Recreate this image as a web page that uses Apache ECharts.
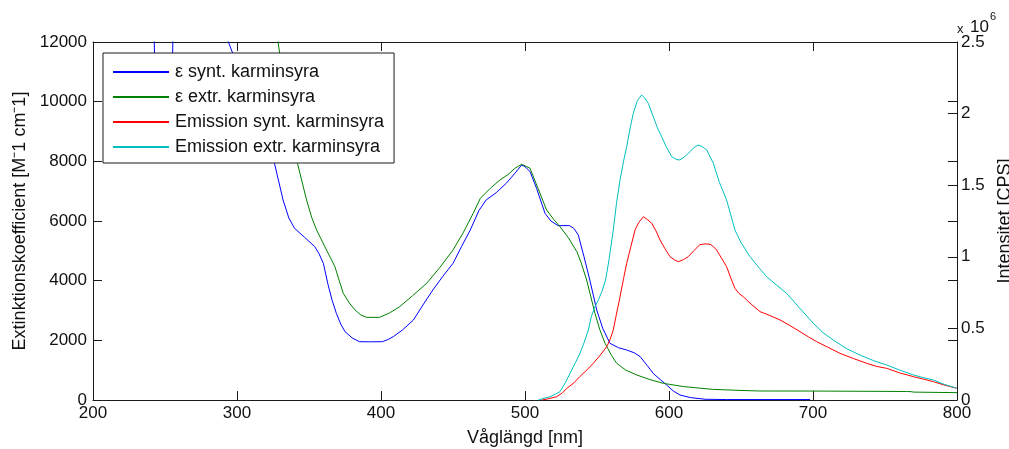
<!DOCTYPE html>
<html>
<head>
<meta charset="utf-8">
<script src="https://cdn.jsdelivr.net/npm/echarts@6/dist/echarts.min.js"></script>
<style>html,body{margin:0;padding:0;background:#fff}#c{width:1009px;height:449px}</style>
</head>
<body>
<div id="c"></div>
<script>
// ---- data (wavelength nm, value) ----
const seriesNames = ['ε synt. karminsyra', 'ε extr. karminsyra', 'Emission synt. karminsyra', 'Emission extr. karminsyra'];
const xTicks = [200, 300, 400, 500, 600, 700, 800];
const leftTicks = [0, 2000, 4000, 6000, 8000, 10000, 12000];
const rightTicks = [0, 0.5, 1, 1.5, 2, 2.5];

// absorption (M-1 cm-1)
const blueData = [[200,16000],[230,15000],[242,14000],[243,10500],[255,10500],[256,14000],[280,14500],[294,12000],[310,10000],[326,7935],[332,6704],[336,6100],[340,5755],[347,5450],[354,5140],[357,4900],[360,4581],[363,3911],[366,3350],[369,2905],[372,2550],[375,2291],[380,2080],[385,1955],[392,1950],[401,1955],[405,2030],[408.5,2123],[415,2350],[422.5,2682],[430,3250],[436,3687],[443,4150],[450,4581],[456,5150],[462,5698],[468,6350],[473,6704],[480,6950],[487,7264],[493,7600],[497.7,7878],[500,7820],[503.5,7654],[508,7100],[513.9,6257],[518,6000],[523,5844],[531,5844],[534,5750],[537,5531],[541,4800],[545,4022],[549.8,3017],[554,2400],[559,1900],[565,1750],[570.6,1676],[576,1580],[580,1452],[585,1150],[589,894],[594,680],[598.4,503],[603,300],[607.6,168],[615,80],[625,25],[640,15],[698,15]];
const greenData = [[200,20000],[320,16000],[328.5,12000],[335,9800],[342,7935],[348.3,6704],[352,6100],[355.3,5698],[361,5140],[368,4469],[371,4000],[373.8,3576],[378,3250],[382,3017],[386,2850],[390,2771],[399,2771],[406,2920],[413,3128],[422,3500],[431.7,3911],[441,4450],[450,5028],[457,5600],[464,6257],[469,6760],[476,7100],[482.6,7375],[488,7550],[493,7767],[497.7,7900],[503.5,7767],[509,7100],[515,6369],[520,6050],[524.3,5810],[530,5450],[536,4972],[539,4600],[542.8,4022],[548.6,2905],[552,2350],[555.6,1900],[560,1500],[563.7,1230],[570,1000],[577.6,838],[587,680],[596,559],[610,450],[630,358],[650,320],[663,302],[700,300],[765,285],[766,260],[768,280],[770,265],[800,246]];
// emission (CPS, x 10^6)
const redData = [[511.6,0],[516,0.008],[522,0.023],[526,0.05],[529,0.081],[534,0.12],[538,0.163],[543,0.21],[547.4,0.256],[552,0.31],[556.7,0.372],[559,0.42],[561.3,0.489],[563.5,0.6],[566,0.721],[568.5,0.85],[570.6,0.954],[573.5,1.07],[576.4,1.187],[579,1.24],[582.2,1.28],[585,1.26],[588,1.234],[591,1.18],[593.8,1.117],[597,1.06],[600.7,1.001],[603.5,0.98],[606.5,0.966],[610,0.98],[613.4,1.001],[617,1.04],[621.5,1.085],[625,1.09],[628.5,1.088],[631,1.07],[633.1,1.047],[636.5,0.99],[640,0.931],[643,0.85],[645.8,0.78],[648.5,0.745],[651.6,0.721],[657,0.67],[663.2,0.617],[670,0.59],[677.1,0.559],[684,0.52],[691,0.477],[697,0.44],[702.6,0.407],[710,0.37],[718.7,0.326],[728,0.29],[737.3,0.256],[744,0.235],[751.2,0.221],[760,0.19],[769.7,0.163],[777,0.145],[783.6,0.128],[791,0.105],[799.8,0.082]];
const cyanData = [[509.3,0],[513,0.012],[517.4,0.023],[521,0.04],[524.3,0.058],[528,0.12],[531.3,0.186],[535,0.26],[538.2,0.326],[541,0.4],[544,0.489],[546,0.58],[548.5,0.65],[551,0.7],[553.5,0.76],[556,0.84],[558.5,0.99],[561.3,1.187],[563.5,1.37],[566,1.536],[568.5,1.67],[570.6,1.769],[573,1.9],[575.2,2.002],[578,2.09],[581,2.13],[583,2.11],[585.6,2.072],[589.1,1.978],[592,1.9],[594.9,1.839],[598,1.77],[601.9,1.699],[605,1.68],[607.6,1.676],[611,1.7],[614.6,1.734],[617,1.76],[620.3,1.781],[623,1.77],[626.2,1.746],[630.8,1.653],[635,1.52],[640,1.397],[645.8,1.187],[650,1.1],[656.2,1.001],[662,0.93],[667.8,0.861],[675,0.8],[681.7,0.745],[690,0.65],[700.2,0.536],[707,0.47],[714.1,0.419],[723,0.36],[732.6,0.314],[742,0.275],[751.2,0.244],[760,0.21],[769.7,0.175],[777,0.155],[783.6,0.14],[791,0.11],[799.8,0.082]];

const colors = ['#0000ff', '#008000', '#ff0000', '#00bfbf'];
const FONT = '"Liberation Sans", Arial, sans-serif';
const AX = '#1a1a1a';

const chart = echarts.init(document.getElementById('c'), null, {renderer: 'canvas'});
const tickIn = {show: true, inside: true, length: 9, lineStyle: {color: AX, width: 1}};
const lab = {color: '#111', fontFamily: FONT, fontSize: 17, formatter: v => String(v)};

chart.setOption({
  animation: false,
  backgroundColor: '#fff',
  grid: {left: 93, right: 52, top: 42, bottom: 49, containLabel: false, outerBoundsMode: 'none', show: false},
  legend: {
    orient: 'vertical', left: 103, top: 53,
    data: seriesNames.map((n, i) => ({name: n, icon: 'rect', itemStyle: {color: colors[i]}})),
    itemWidth: 56, itemHeight: 2, itemGap: 5,
    padding: [9, 10, 6, 10],
    backgroundColor: '#fff', borderColor: AX, borderWidth: 1, borderRadius: 0,
    textStyle: {fontFamily: FONT, fontSize: 18, color: '#111', lineHeight: 20, padding: [0, 0, 0, 1]}
  },
  xAxis: [
    {type: 'value', min: xTicks[0], max: xTicks[xTicks.length - 1], interval: 100, position: 'bottom',
     name: 'Våglängd [nm]', nameLocation: 'middle', nameGap: 29,
     nameTextStyle: {fontFamily: FONT, fontSize: 18, color: '#111'},
     axisLine: {show: true, onZero: false, lineStyle: {color: AX, width: 1}},
     axisTick: tickIn, axisLabel: Object.assign({margin: 5}, lab), splitLine: {show: false}},
    {type: 'value', min: xTicks[0], max: xTicks[xTicks.length - 1], interval: 100, position: 'top',
     axisLine: {show: true, onZero: false, lineStyle: {color: AX, width: 1}},
     axisTick: tickIn, axisLabel: {show: false}, splitLine: {show: false}}
  ],
  yAxis: [
    {type: 'value', min: 0, max: 12000, interval: 2000, position: 'left',
     name: 'Extinktionskoefficient [M⁻1 cm⁻1]', nameLocation: 'middle', nameGap: 64, nameRotate: 90,
     nameTextStyle: {fontFamily: FONT, fontSize: 18, color: '#111'},
     axisLine: {show: true, onZero: false, lineStyle: {color: AX, width: 1}},
     axisTick: tickIn, axisLabel: Object.assign({margin: 6}, lab), splitLine: {show: false}},
    {type: 'value', min: 0, max: 2.5, interval: 0.5, position: 'right',
     name: 'Intensitet [CPS]', nameLocation: 'middle', nameGap: 32, nameRotate: 90,
     nameTextStyle: {fontFamily: FONT, fontSize: 18, color: '#111'},
     axisLine: {show: true, onZero: false, lineStyle: {color: AX, width: 1}},
     axisTick: tickIn, axisLabel: Object.assign({margin: 4}, lab), splitLine: {show: false}},
    {type: 'value', min: 0, max: 12000, interval: 2000, position: 'right',
     axisLine: {show: false}, axisTick: tickIn, axisLabel: {show: false}, splitLine: {show: false}}
  ],
  graphic: [
    {type: 'text', left: 957, top: 23, style: {text: 'x', font: '13px ' + FONT, fill: '#111'}},
    {type: 'text', left: 970, top: 19, style: {text: '10', font: '17px ' + FONT, fill: '#111'}},
    {type: 'text', left: 990, top: 11, style: {text: '6', font: '11px ' + FONT, fill: '#111'}}
  ],
  series: [
    {name: seriesNames[0], type: 'line', data: blueData, xAxisIndex: 0, yAxisIndex: 0, showSymbol: false, symbol: 'none', clip: true, lineStyle: {width: 1, color: colors[0]}, itemStyle: {color: colors[0]}, z: 3},
    {name: seriesNames[1], type: 'line', data: greenData, xAxisIndex: 0, yAxisIndex: 0, showSymbol: false, symbol: 'none', clip: true, lineStyle: {width: 1, color: colors[1]}, itemStyle: {color: colors[1]}, z: 3},
    {name: seriesNames[2], type: 'line', data: redData, xAxisIndex: 0, yAxisIndex: 1, showSymbol: false, symbol: 'none', clip: true, lineStyle: {width: 1, color: colors[2]}, itemStyle: {color: colors[2]}, z: 3},
    {name: seriesNames[3], type: 'line', data: cyanData, xAxisIndex: 0, yAxisIndex: 1, showSymbol: false, symbol: 'none', clip: true, lineStyle: {width: 1, color: colors[3]}, itemStyle: {color: colors[3]}, z: 3}
  ]
});
</script>
</body>
</html>
